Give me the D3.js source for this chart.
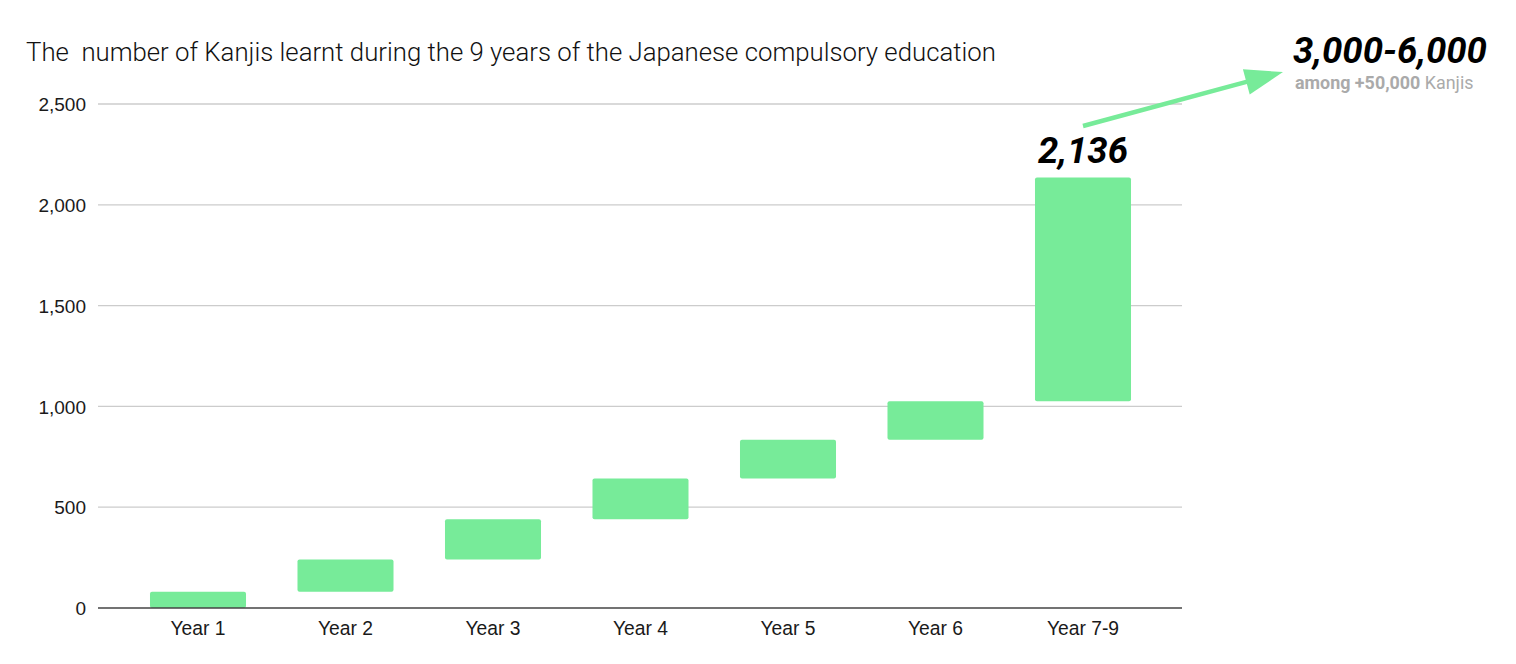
<!DOCTYPE html>
<html><head><meta charset="utf-8">
<script src="https://cdn.jsdelivr.net/npm/d3@7"></script>
<style>body{margin:0;background:#fff;} svg{display:block;}</style>
</head><body>
<svg id="chart" width="1516" height="664"></svg>
<script>
const categories = ["Year 1","Year 2","Year 3","Year 4","Year 5","Year 6","Year 7-9"];
const newKanji = [80, 160, 200, 202, 193, 191, 1110];
const yTicks = [0, 500, 1000, 1500, 2000, 2500];
const titleText = "The  number of Kanjis learnt during the 9 years of the Japanese compulsory education";
const totalLabel = "2,136";
const rangeLabel = "3,000-6,000";

const svg = d3.select("#chart");
const font = "Roboto, 'Noto Sans', sans-serif";
const axisFont = "'Liberation Sans', Arial, sans-serif";
const green = "#77eb99";

// cumulative floating bars
let acc = 0;
const bars = categories.map((c, i) => { const start = acc; acc += newKanji[i]; return {c, start, end: acc}; });

const x = d3.scaleBand().domain(categories).range([124.25, 1156.75]).paddingInner(0.349).paddingOuter(0.1745);
const y = d3.scaleLinear().domain([0, 2500]).range([608, 104]);
const plotLeft = 98, plotRight = 1182;

// gridlines
svg.append("g").selectAll("line").data(yTicks.filter(d => d > 0)).join("line")
  .attr("x1", plotLeft).attr("x2", plotRight)
  .attr("y1", d => y(d)).attr("y2", d => y(d))
  .attr("stroke", "#cccccc").attr("stroke-width", 1.3);

// y labels
const yAxis = d3.axisLeft(y).tickValues(yTicks).tickFormat(d3.format(",")).tickSize(0).tickPadding(0);
const gy = svg.append("g").attr("transform", `translate(86,0)`).call(yAxis);
gy.select(".domain").remove();
gy.selectAll("text").attr("font-family", axisFont).attr("font-size", 19).attr("fill", "#1a1a1a").attr("dy", "0.35em");

// bars
svg.append("g").selectAll("rect").data(bars).join("rect")
  .attr("x", d => x(d.c)).attr("width", x.bandwidth())
  .attr("y", d => y(d.end)).attr("height", d => y(d.start) - y(d.end))
  .attr("rx", 2).attr("fill", green);

// baseline
svg.append("line").attr("x1", plotLeft).attr("x2", plotRight)
  .attr("y1", y(0)).attr("y2", y(0)).attr("stroke", "#444").attr("stroke-width", 1.5);

// x labels
const xAxis = d3.axisBottom(x).tickSize(0).tickPadding(0);
const gx = svg.append("g").attr("transform", `translate(0,${y(0)})`).call(xAxis);
gx.select(".domain").remove();
gx.selectAll("text").attr("font-family", axisFont).attr("font-size", 19.3).attr("fill", "#1a1a1a")
  .attr("dy", null).attr("y", 27);

// title
svg.append("text").attr("x", 26).attr("y", 61).text(titleText)
  .style("white-space", "pre")
  .attr("font-family", font).attr("font-weight", 300).attr("font-size", 25.75).attr("fill", "#111");

// total label
const last = bars[bars.length - 1];
svg.append("text").attr("x", x(last.c) + x.bandwidth() / 2).attr("y", y(last.end) - 14)
  .attr("text-anchor", "middle").text(totalLabel)
  .attr("font-family", font).attr("font-weight", 700).attr("font-style", "italic").attr("font-size", 36.5).attr("fill", "#000");

// arrow
const ax0 = x(last.c) + x.bandwidth() / 2, ay0 = 126, ax1 = 1283, ay1 = 72;
const ang = Math.atan2(ay1 - ay0, ax1 - ax0);
const headLen = 38, headHalf = 13;
const bx = ax1 - headLen * Math.cos(ang), by = ay1 - headLen * Math.sin(ang);
svg.append("line").attr("x1", ax0).attr("y1", ay0).attr("x2", bx + 2 * Math.cos(ang)).attr("y2", by + 2 * Math.sin(ang))
  .attr("stroke", green).attr("stroke-width", 4.5);
svg.append("path").attr("d", `M${ax1},${ay1}L${bx - headHalf * Math.sin(ang)},${by + headHalf * Math.cos(ang)}L${bx + headHalf * Math.sin(ang)},${by - headHalf * Math.cos(ang)}Z`)
  .attr("fill", green);

// range label
svg.append("text").attr("x", 1293).attr("y", 63).text(rangeLabel)
  .attr("font-family", font).attr("font-weight", 700).attr("font-style", "italic").attr("font-size", 36.5).attr("fill", "#000");
const sub = svg.append("text").attr("x", 1295).attr("y", 89)
  .attr("font-family", font).attr("font-size", 17.9).attr("fill", "#aaa");
sub.append("tspan").attr("font-weight", 700).text("among +50,000");
sub.append("tspan").text(" Kanjis");
</script>
</body></html>
